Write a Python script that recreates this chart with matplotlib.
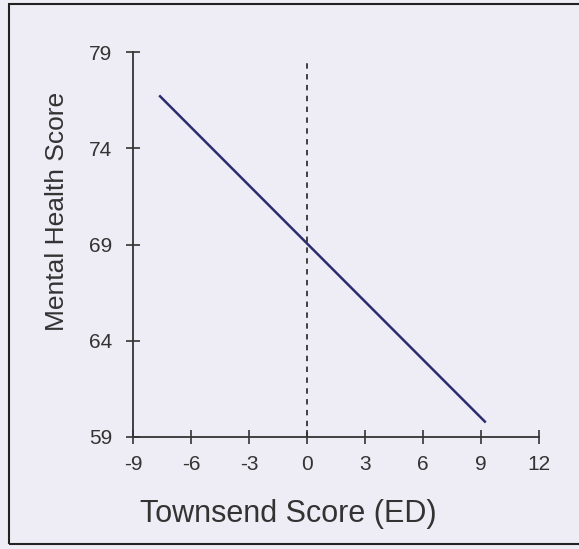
import matplotlib.pyplot as plt
from matplotlib.patches import Rectangle

plt.rcParams['font.family'] = ['Liberation Sans', 'DejaVu Sans']
plt.rcParams['axes.unicode_minus'] = False

# fitted line
townsend = [-7.6, 9.2]
mental_health = [76.7, 59.8]

x_ticks = [-9, -6, -3, 0, 3, 6, 9, 12]
y_ticks = [59, 64, 69, 74, 79]

fig = plt.figure(figsize=(5.79, 5.49), dpi=100, facecolor='#eeedf5')

# frame round the chart
fig.patches.append(Rectangle((9/579, 5/549), 1.0, 1 - 9/549, transform=fig.transFigure,
                             fill=False, edgecolor='#222222', linewidth=1.5))

ax = fig.add_axes([133/579, 1 - 437/549, 406/579, 385/549])
ax.set_facecolor('none')

ax.plot(townsend, mental_health, color='#2b2b70', linewidth=1.8)
ax.plot([0, 0], [59, 78.6], color='#333333', linestyle=(0, (3, 3)), linewidth=1.3)

ax.set_xlim(-9, 12)
ax.set_ylim(59, 79)
ax.set_xticks(x_ticks)
ax.set_yticks(y_ticks)

for s in ['top', 'right']:
    ax.spines[s].set_visible(False)
for s in ['left', 'bottom']:
    ax.spines[s].set_color('#333333')
    ax.spines[s].set_linewidth(1.3)

ax.tick_params(direction='inout', length=10, width=1.2, color='#333333',
               labelsize=15, labelcolor='#333333')
ax.tick_params(axis='x', pad=8)
ax.tick_params(axis='y', pad=10)

fig.text(288/579, 1 - 522/549, 'Townsend Score (ED)', fontsize=22, color='#333333',
         ha='center', va='baseline')
fig.text(57/579, 1 - 211/549, 'Mental Health Score', fontsize=19, color='#333333',
         ha='center', va='center', rotation=90)

plt.savefig('out.png', dpi=100, facecolor=fig.get_facecolor())
